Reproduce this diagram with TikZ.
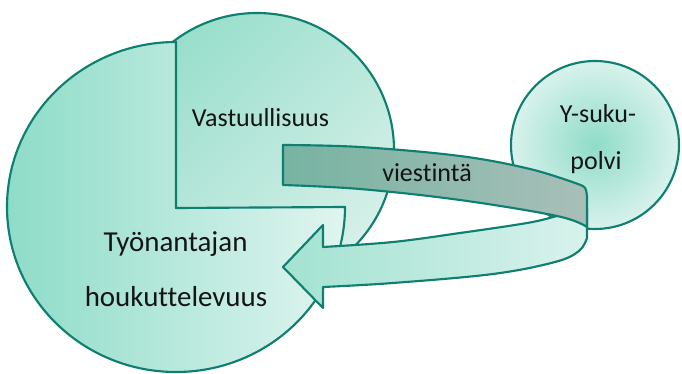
\documentclass[tikz,border=0pt]{standalone}
\usepackage{fontspec}
\setmainfont{Carlito}[Ligatures=NoCommon]
\definecolor{edge}{HTML}{0F7F6F}
\definecolor{pieL}{HTML}{8EDCC8}
\definecolor{pieR}{HTML}{E0F5F0}
\definecolor{smTL}{HTML}{98DECB}
\definecolor{smBR}{HTML}{D6F0E9}
\definecolor{yin}{HTML}{8FDCC8}
\definecolor{yout}{HTML}{D8F2EC}
\definecolor{bandL}{HTML}{A3E2D1}
\definecolor{bandR}{HTML}{D8F2EC}
\definecolor{darkL}{HTML}{77B3A2}
\definecolor{darkR}{HTML}{A8BFB8}
\begin{document}
\begin{tikzpicture}[x=0.75pt,y=-0.75pt,
  outl/.style={draw=edge,line width=1.6pt,line join=round},
  lbl/.style={anchor=base,inner sep=0pt,text=black!92,font=\fontsize{19.5}{23}\selectfont},
  biglbl/.style={anchor=base,inner sep=0pt,text=black!92,font=\fontsize{21.7}{25}\selectfont}]
\useasboundingbox (0,0) rectangle (682,374);
% small circle (behind)
\path[outl,top color=smTL,bottom color=smBR,shading angle=45] (257,150) circle[radius=137];
% Y circle
\path[outl,inner color=yin,outer color=yout] (595,145) circle[radius=84];
% big pie
\path[outl,left color=pieL,right color=pieR]
  (176,208) -- (176,42) arc[start angle=-90,end angle=-360,x radius=169,y radius=165] -- cycle;
% front light band with arrowhead
\path[outl,left color=bandL,right color=bandR]
  (283,267) -- (323,225) -- (323,247)
  -- plot[smooth,tension=0.6] coordinates {(323,247) (393,242) (460,233) (527,223) (557,216) (587,208)}
  -- (587,238)
  -- plot[smooth,tension=0.6] coordinates {(587,238) (579,251) (555,262) (493,274) (393,283) (323,287)}
  -- (323,308) -- cycle;
% back dark band
\path[outl,left color=darkL,right color=darkR]
  (283,145)
  -- plot[smooth,tension=0.6] coordinates {(283,145) (360,147) (460,156) (530,169) (578,184)}
  .. controls (586,187) .. (587,197)
  -- (587,227)
  -- plot[smooth,tension=0.6] coordinates {(587,227) (557,216) (460,200) (360,189) (283,185)}
  -- cycle;
% labels
\node[lbl] (vas) at (260.5,127) {Vastuullisuus};
\node[biglbl] (tyo) at (175.5,252) {Työnantajan};
\node[biglbl] (hou) at (176,306) {houkuttelevuus};
\node[lbl] (vie) at (427,182) {viestintä};
\node[lbl] (ysu) at (598,123) {Y-suku-};
\node[lbl] (pol) at (596,170) {polvi};
\end{tikzpicture}
\end{document}
